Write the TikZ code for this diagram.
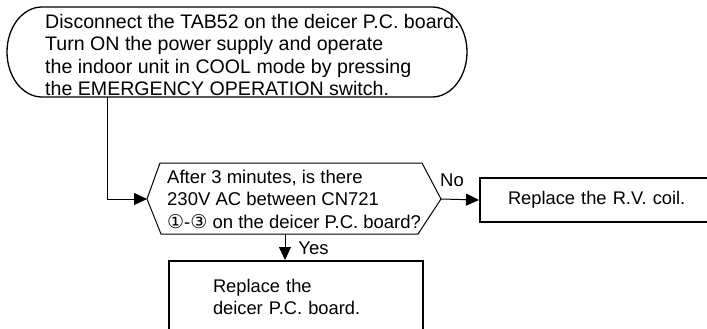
\documentclass[tikz,border=0pt]{standalone}
\usepackage{fontspec}
\setmainfont{Liberation Sans}
\newfontfamily\symfont{DejaVu Sans}
\usetikzlibrary{arrows.meta}
\newcommand\cdig[1]{{\symfont\fontsize{19}{19}\selectfont #1}}
\begin{document}
\begin{tikzpicture}[x=1pt,y=1pt,
  txt/.style={inner sep=0pt, align=left, font=\fontsize{18.5}{22.5}\selectfont},
  termtxt/.style={inner sep=0pt, align=left, font=\fontsize{19.6}{22.4}\selectfont},
  termline/.style={draw, line width=1.3pt},
  decline/.style={draw, line width=1pt},
  boxstyle/.style={draw, line width=2pt, align=left, font=\fontsize{18.3}{22.5}\selectfont},
  conn/.style={line width=1pt, -{Triangle[length=13pt,width=12pt]}},
  lbl/.style={inner sep=0pt, font=\fontsize{18.5}{22.5}\selectfont}
]
\clip (0,0) rectangle (707,-329);
\fill[white] (0,0) rectangle (707,-329);
% terminal
\path[termline] (42,-7) -- (432,-7)
  arc[start angle=90, end angle=-90, x radius=35pt, y radius=45pt]
  -- (42,-97)
  arc[start angle=-90, end angle=-270, x radius=35pt, y radius=45pt] -- cycle;
\node[termtxt, anchor=west] (start) at (45,-55) {Disconnect the TAB52 on the deicer P.C. board.\\
Turn ON the power supply and operate\\
the indoor unit in COOL mode by pressing\\
the EMERGENCY OPERATION switch.};
\coordinate (startout) at (107,-97);
% decision
\coordinate (decW) at (147,-199);
\coordinate (decE) at (441,-199);
\coordinate (decS) at (285,-234);
\path[decline] (decW) -- (160,-163) -- (422,-163) -- (decE) -- (418,-234) -- (161,-234) -- cycle;
\node[txt, anchor=west] (dec) at (167,-199) {After 3 minutes, is there\\
230V AC between CN721\\
\cdig{①}-\cdig{③} on the deicer P.C. board?};
% right box
\node[boxstyle, anchor=west, minimum height=44pt, text width=185pt, inner xsep=28pt] (rv) at (479,-200) {Replace the R.V. coil.};
% bottom box
\node[boxstyle, anchor=north west, text width=166pt, inner xsep=44pt, inner ysep=18pt] (pcb) at (168,-260) {Replace the\\deicer P.C. board.};
% connectors
\draw[conn] (startout) |- (decW);
\draw[conn] (decE) -- (rv.west);
\draw[conn] (decS) -- (pcb.north -| decS);
\node[lbl] (no) at (452,-180.5) {No};
\node[lbl] (yes) at (313.5,-248.5) {Yes};
\end{tikzpicture}
\end{document}
